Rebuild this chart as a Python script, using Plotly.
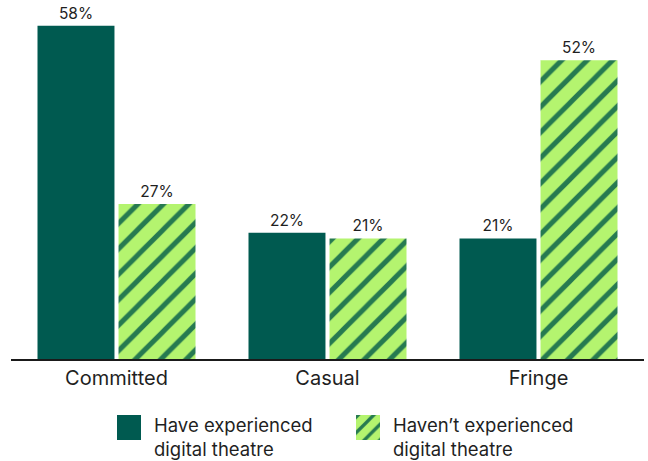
import plotly.graph_objects as go

# Audience segments and share of each group
segments = ["Committed", "Casual", "Fringe"]
have_experienced = [58, 22, 21]
havent_experienced = [27, 21, 52]
series_names = ["Have experienced<br>digital theatre",
                "Haven\u2019t experienced<br>digital theatre"]

DARK = "#005a50"
LIGHT = "#b4f46f"
STRIPE = "#267a50"
FONT = "Inter"
TEXT = "#1f1f1f"

W, H = 648, 461
plot_left, plot_right, plot_bottom = 11, 644, 359

fig = go.Figure()

fig.add_trace(go.Bar(
    x=segments, y=have_experienced,
    marker=dict(color=DARK, line=dict(width=0)),
    text=[f"{v}%" for v in have_experienced], textposition="outside",
    textfont=dict(family=FONT, size=15.5, color=TEXT),
    cliponaxis=False, showlegend=False,
))
fig.add_trace(go.Bar(
    x=segments, y=havent_experienced,
    marker=dict(color=LIGHT, line=dict(width=0),
                pattern=dict(shape="/", fgcolor=STRIPE, bgcolor=LIGHT,
                             size=18, solidity=0.28, fillmode="replace")),
    text=[f"{v}%" for v in havent_experienced], textposition="outside",
    textfont=dict(family=FONT, size=15.5, color=TEXT),
    cliponaxis=False, showlegend=False,
))

# Custom legend drawn on an overlay axis measured in pixels
swatches = [
    dict(x0=117, x1=141, y0=415, y1=440, solid=True, text_x=152, label=series_names[0]),
    dict(x0=356, x1=380, y0=415, y1=440, solid=False, text_x=391, label=series_names[1]),
]
for s in swatches:
    xs = [s["x0"], s["x1"], s["x1"], s["x0"], s["x0"]]
    ys = [s["y0"], s["y0"], s["y1"], s["y1"], s["y0"]]
    kw = dict(fillcolor=DARK) if s["solid"] else dict(
        fillcolor=LIGHT,
        fillpattern=dict(shape="/", fgcolor=STRIPE, bgcolor=LIGHT, size=11, solidity=0.3,
                         fillmode="replace"))
    fig.add_trace(go.Scatter(x=xs, y=ys, xaxis="x2", yaxis="y2", mode="lines",
                             line=dict(width=0), fill="toself", hoverinfo="skip",
                             showlegend=False, **kw))
    fig.add_annotation(x=s["text_x"], y=437, xref="x2", yref="y2",
                       text=s["label"], showarrow=False, xanchor="left", yanchor="middle",
                       align="left", font=dict(family=FONT, size=18.5, color=TEXT))

fig.update_layout(
    width=W, height=H,
    margin=dict(l=plot_left, r=W - plot_right, t=0, b=0),
    paper_bgcolor="white", plot_bgcolor="rgba(0,0,0,0)",
    barmode="group", bargap=0.232, bargroupgap=0.05,
    xaxis=dict(domain=[0, 1], anchor="y", showgrid=False, showline=True,
               linecolor="#1a1a1a", linewidth=2, ticks="",
               tickfont=dict(family=FONT, size=20, color=TEXT)),
    yaxis=dict(domain=[(H - plot_bottom) / H, 1], range=[0, 62.5], visible=False,
               showgrid=False, zeroline=False),
    xaxis2=dict(domain=[0, 1], range=[plot_left, plot_right], visible=False, anchor="y2",
                fixedrange=True),
    yaxis2=dict(domain=[0, 1], range=[H, 0], visible=False, anchor="x2", fixedrange=True),
    showlegend=False,
)

fig.write_html("out.html")
